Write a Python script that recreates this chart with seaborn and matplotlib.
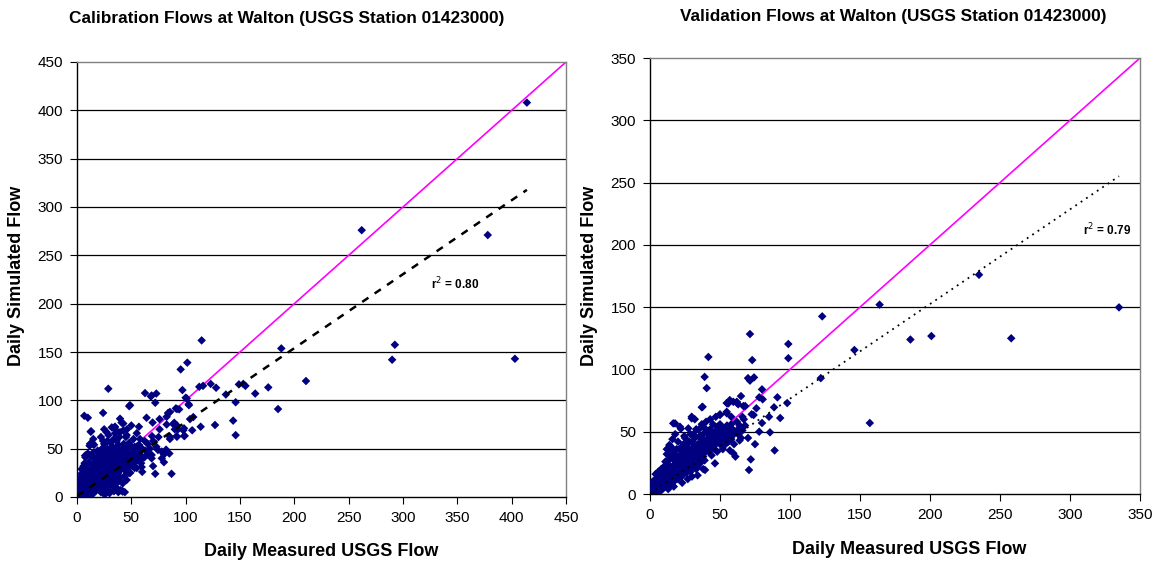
import numpy as np
import pandas as pd
import matplotlib
matplotlib.use("Agg")
import matplotlib.pyplot as plt
import seaborn as sns

# ---------------- data ----------------
# Calibration period: (daily measured USGS flow, daily simulated flow)
calib_pairs = [
    # low-flow core
    (0.5,0.8),(1,1.5),(1.2,0.5),(1.5,2.5),(2,1),(2,3.5),(2.5,2),(3,1.2),(3,4.5),(3.5,3),(4,2),(4,6),
    (4.5,4),(5,1),(5,3),(5,7.5),(5.5,5),(6,2.5),(6,9),(6.5,6),(7,4),(7,11),(7.5,7.5),(8,2),(8,5.5),
    (8,14),(8.5,9),(9,3.5),(9,7),(9.5,12),(10,5),(10,9),(10,18),(3,12),(4,17),(2,8),(6,22),(5,28),
    (7,35),(8,43),(6,15),(9,25),(4,9),(1,5),(2,14),(3,20),(5,12),(7,18),(9,30),(6,32),(4,24),
    (10.5,2),(11,7),(11,13),(11.5,21),(12,4),(12,10),(12,16),(12.5,28),(13,6),(13,12),(13,19),
    (13.5,8),(14,14),(14,22),(14,33),(14.5,3),(15,9),(15,17),(15,25),(15.5,12),(16,6),(16,15),
    (16,20),(16,40),(16.5,30),(17,10),(17,18),(17,24),(17.5,13),(18,7),(18,16),(18,22),(18,28),
    (18.5,35),(19,11),(19,19),(19,48),(19.5,25),(20,8),(20,14),(20,21),(20,30),(12,55),(14,56),
    (13,68),(10,45),(15,60),(11,36),(13,42),(15,46),(17,38),(19,42),(12,24),(14,27),(16,34),
    (20.5,17),(21,25),(21,11),(21.5,34),(22,5),(22,19),(22,28),(22.5,22),(23,14),(23,31),(23,40),
    (23.5,18),(24,24),(24,9),(24,36),(24.5,27),(25,15),(25,21),(25,30),(25.5,45),(26,19),(26,25),
    (26,33),(26.5,12),(27,22),(27,28),(27,38),(27.5,17),(28,25),(28,31),(28,50),(28.5,20),(29,27),
    (29,35),(29,5),(30,22),(30,29),(30,40),(30,14),(24,4),(26,3),(28,7),(22,62),(25,70),(28,58),
    (21,44),(23,50),(25,55),(27,45),(29,42),(22,37),(24,42),(26,48),(21,8),(25,10),(27,6),
    (30.5,33),(31,26),(31,45),(31.5,19),(32,30),(32,37),(32,24),(32.5,52),(33,28),(33,35),(33,42),
    (34,22),(34,32),(34,40),(34,6),(35,27),(35,36),(35,48),(35.5,30),(36,33),(36,39),(36,18),
    (36.5,58),(37,29),(37,35),(37,44),(38,25),(38,32),(38,40),(38,5),(39,30),(39,37),(39,62),
    (40,28),(40,35),(40,45),(40,20),(32,72),(35,66),(38,54),(33,15),(36,10),(40,7),(42,6),(44,5),
    (31,56),(33,48),(34,60),(37,50),(39,48),(31,12),(35,20),(38,16),
    (41,33),(41,40),(42,30),(42,38),(42,50),(43,35),(43,44),(44,28),(44,40),(45,33),(45,38),(45,48),
    (45,62),(46,36),(46,42),(47,30),(47,40),(48,35),(48,45),(48,56),(49,39),(49,25),(50,38),(50,43),
    (50,52),(51,32),(51,46),(52,40),(52,60),(53,36),(53,44),(54,48),(55,42),(55,30),(56,38),(57,46),
    (57,54),(58,44),(59,35),(60,50),(60,40),(46,70),(50,74),(55,66),(58,60),(43,55),(47,52),
    (44,22),(46,26),(53,52),(56,48),
    # scattered higher flows
    (414,408),(262,276),(378,271),(292.5,157.5),(290,142),(403,143),(114.7,162),(210.7,120),
    (188,153.7),(185,91),(153,117),(149,116.5),(155,115),(176,113.4),(164,107),(146,98),(143.7,79),
    (146,64),(127,74.5),(113.8,72.7),(123,117),(128,113),(116,115),(112.5,114),(137,106),(97,110.6),
    (101,102),(103,95),(107,82.7),(106,69),(101.5,139),(95.4,132),(91,91.7),(94,90.7),(97.8,69),
    (90,70),(99,63.4),(92,62.3),(85.6,62.3),(82.5,75),(88.6,75.4),(84,86.6),(87,24),(72,24),(73,107),
    (68,104),(62.6,107.5),(72,97.5),(48,94),(28.8,112),(24,87),(6.7,84),(10,82),(12.6,67.5),(14,55),
    (7.4,42.7),(39.6,81),(35,72.7),(42.6,76),(57,72.7),(64,82),(84,87),(76,80.6),(80,36),(80,44),
    (73,52),(68.7,43.5),(59.5,31),(60,26),(48,24.7),(42,5.7),(38,6),(34,7),(30,4),(89.5,76.8),
    (91.7,63),(98.7,63),(93,70),(85.5,88),(82.5,83),(92,74),(104,80.6),(69.6,77),(76,70),(69,63),
    (85.5,60),(62.3,58),(55,52),(74.5,48.6),(78,47),(82,49),(85,45),(68.7,40),(78,40),(70,32),
    (48.8,35),(53,30),(45.7,17.6),(42,14),(62,41),(65,44),(45.7,64),(39.6,67),(42.6,69),(68.7,105),
    (48.8,95),(41,77),(34.6,72),(36,69),(27.3,67),(29,64),(24,58),(11.6,53),(15.7,54),(7.8,41),
    (4.3,29),(100,102.7),(102.7,96),(92,91),(98.5,71),(65,55),(70,58),(75,62),(63,48),(67,50),
]

# Validation period: (daily measured USGS flow, daily simulated flow)
valid_pairs = [
    # low-flow core
    (0.5,0.5),(1,1.5),(1,0.3),(1.5,2),(2,1),(2,3),(2.5,1.8),(3,2.5),(3,4.5),(3.5,1.5),(4,3.5),(4,6),
    (4.5,2.5),(5,4.5),(5,7),(5.5,3),(6,5.5),(6,9),(6.5,4),(7,7),(7,11),(7.5,5),(8,8),(8,13),(8.5,6),
    (9,9),(9,4),(9.5,11),(10,7),(10,14),(2,6),(3,9),(4,12),(5,15),(6,18),(7,16),(8,20),(1,3.5),(6,2),
    (8,3),(2,10),(4,16),(6,13),(9,17),(10,22),
    (10.5,10),(11,12),(11,6),(11.5,16),(12,9),(12,13),(12,20),(12.5,11),(13,15),(13,7),(13,24),
    (13.5,12),(14,17),(14,10),(14,28),(14.5,14),(15,12),(15,19),(15,8),(15,30),(15.5,16),(16,14),
    (16,21),(16,10),(16.5,18),(17,13),(17,23),(17,33),(17.5,16),(18,11),(18,20),(18,26),(18.5,17),
    (19,14),(19,22),(19,36),(19.5,18),(20,12),(20,16),(20,25),(20,42),(11,26),(14,36),(16,44),
    (18,48),(13,4),(17,6),(12,32),(15,38),(17,28),(19,30),(11,18),(20,20),
    (20.5,20),(21,15),(21,28),(21.5,23),(22,18),(22,21),(22,32),(22.5,14),(23,24),(23,19),(23,38),
    (23.5,27),(24,21),(24,16),(24,30),(24.5,24),(25,19),(25,27),(25,35),(25,45),(25.5,22),(26,25),
    (26,30),(26,17),(26.5,40),(27,21),(27,27),(27,33),(27.5,24),(28,19),(28,29),(28,36),(28.5,26),
    (29,23),(29,31),(29,48),(29.5,27),(30,22),(30,28),(30,35),(30,42),(23,9),(27,12),(30,14),
    (21,36),(24,40),(26,35),(28,42),(22,26),(29,18),
    (30.5,31),(31,26),(31,38),(31.5,29),(32,24),(32,33),(32,45),(32.5,30),(33,27),(33,36),(33,52),
    (33.5,32),(34,29),(34,40),(34,22),(35,31),(35,37),(35,46),(35.5,28),(36,34),(36,41),(36,25),
    (36.5,38),(37,31),(37,44),(37,56),(37.5,35),(38,30),(38,40),(38,48),(38.5,36),(39,33),(39,43),
    (39,27),(40,35),(40,39),(40,50),(40,58),(34,15),(38,20),(31,48),(35,52),(39,53),(33,20),
    (41,37),(41,44),(41.5,40),(42,34),(42,47),(42.5,39),(43,42),(43,52),(44,38),(44,45),(44,31),
    (45,41),(45,48),(45,56),(46,43),(46,36),(46.5,50),(47,45),(47,40),(48,47),(48,54),(48,34),
    (49,43),(49,50),(50,45),(50,40),(50,56),(51,48),(52,44),(52,52),(53,47),(54,50),(54,40),(55,45),
    (55,55),(56,52),(57,48),(58,44),(58,56),(60,50),(60,40),(62,58),(63,48),(65,45),(66,62),
    (43,60),(47,62),(52,36),(56,42),(59,52),
    # scattered higher flows
    (335,149.8),(258,125),(235,176),(201,126.8),(186,124),(164,152),(157,57),(146,115.6),
    (123,142.6),(122,93),(98.8,120.4),(98.8,109),(71.4,128.4),(73,107.5),(41.7,110),(39,94),
    (40.5,85),(37.6,70),(70,93),(71.4,91),(74.3,93.6),(80,84),(78,77.6),(80.5,76),(91,77.6),(98,73),
    (88.6,69.6),(85.7,49.5),(75,40),(89,35),(72,27.8),(70.7,19.3),(65,78.6),(57,75.4),(59.5,74),
    (54.8,73),(63,72),(66.7,70.6),(76,68.8),(74,63.4),(72.6,64),(62,74),(68,70.6),(55.5,72.8),
    (54.8,66),(50,63.4),(17.9,56.7),(22,52.4),(29.8,60.7),(32,60),(37,69.6),(24.5,46.5),(13.8,39.3),
    (12,36),(39.3,19.3),(46.4,24.6),(33,32.7),(59.5,32.7),(61,30),(57,35),(66,51),(62,51),(64,55),
    (16.6,56.7),(21.4,54),(29.8,62),(27.4,52.7),(51,46),(64,43),(67.9,55),(54.8,64.8),(58,62),
    (50,64),(56,72.8),(62,73.3),(80,57),(85,62),(93,61),(78,50),(60,48),(70,45),(67,60),
]

# Linear trend fits and goodness of fit shown on each panel
calib_trend = {"slope": 0.765, "intercept": 1.0, "r2": "0.80"}
valid_trend = {"slope": 0.76, "intercept": 0.5, "r2": "0.79"}

panels = [
    {
        "title": "Calibration Flows at Walton (USGS Station 01423000)",
        "pairs": calib_pairs, "trend": calib_trend, "limit": 450,
        "trend_style": dict(linestyle=(0, (3.0, 3.0)), linewidth=1.8),
        "r2_pos": (326, 220),
    },
    {
        "title": "Validation Flows at Walton (USGS Station 01423000)",
        "pairs": valid_pairs, "trend": valid_trend, "limit": 350,
        "trend_style": dict(linestyle=(0, (1.0, 2.6)), linewidth=1.3),
        "r2_pos": (309, 212),
    },
]

# ---------------- style ----------------
sns.set_theme(style="white")
plt.rcParams["font.family"] = ["Liberation Sans", "DejaVu Sans"]
plt.rcParams["text.color"] = "black"
plt.rcParams["axes.labelcolor"] = "black"
plt.rcParams["xtick.color"] = "black"
plt.rcParams["ytick.color"] = "black"

fig = plt.figure(figsize=(11.64, 5.71), dpi=100)
axes_rects = [
    [77 / 1164, 74 / 571, 489 / 1164, 435 / 571],
    [650 / 1164, 77 / 571, 490 / 1164, 436 / 571],
]
title_pos = [(287 / 1164, 1 - 18 / 571), (893 / 1164, 1 - 16 / 571)]
xlabel_y = [1 - 551 / 571, 1 - 549 / 571]
xlabel_x = [321 / 1164, 909 / 1164]
ylabel_x = [17 / 1164, 590 / 1164]

for i, p in enumerate(panels):
    ax = fig.add_axes(axes_rects[i])
    df = pd.DataFrame(p["pairs"], columns=["measured", "simulated"])
    lim = p["limit"]

    # horizontal gridlines at each major tick
    ticks = np.arange(0, lim + 1, 50)
    for t in ticks[1:-1]:
        ax.axhline(t, color="black", linewidth=0.9, zorder=0)

    # 1:1 line
    ax.plot([0, lim], [0, lim], color="#FF00FF", linewidth=1.2, zorder=2)

    sns.scatterplot(data=df, x="measured", y="simulated", ax=ax, marker="D",
                    s=19, color="#000080", edgecolor="none", linewidth=0, zorder=3)

    # linear trendline across the measured range
    tr = p["trend"]
    xs = np.array([0, df["measured"].max()])
    ax.plot(xs, tr["intercept"] + tr["slope"] * xs, color="black",
            zorder=4, **p["trend_style"])

    ax.text(*p["r2_pos"], f"r$^2$ = {tr['r2']}", fontsize=8.5, fontweight="bold",
            ha="left", va="center", color="black")

    ax.set_xlim(0, lim)
    ax.set_ylim(0, lim)
    ax.set_xticks(ticks)
    ax.set_yticks(ticks)
    ax.tick_params(axis="both", direction="out", length=5, width=0.8, color="black",
                   labelcolor="black", labelsize=11, pad=5, bottom=True, left=True)
    ax.set_xlabel("")
    ax.set_ylabel("")
    for side in ("left", "bottom"):
        ax.spines[side].set_color("black")
        ax.spines[side].set_linewidth(1.0)
    for side in ("top", "right"):
        ax.spines[side].set_color("#808080")
        ax.spines[side].set_linewidth(1.0)

    fig.text(*title_pos[i], p["title"], ha="center", va="center",
             fontsize=12.4, fontweight="bold", color="black")
    fig.text(xlabel_x[i], xlabel_y[i], "Daily Measured USGS Flow", ha="center",
             va="center", fontsize=13, fontweight="bold", color="black")
    fig.text(ylabel_x[i], 1 - 276 / 571, "Daily Simulated Flow", ha="center",
             va="center", rotation=90, fontsize=13, fontweight="bold", color="black")

fig.savefig("out.png", dpi=100, facecolor="white")
